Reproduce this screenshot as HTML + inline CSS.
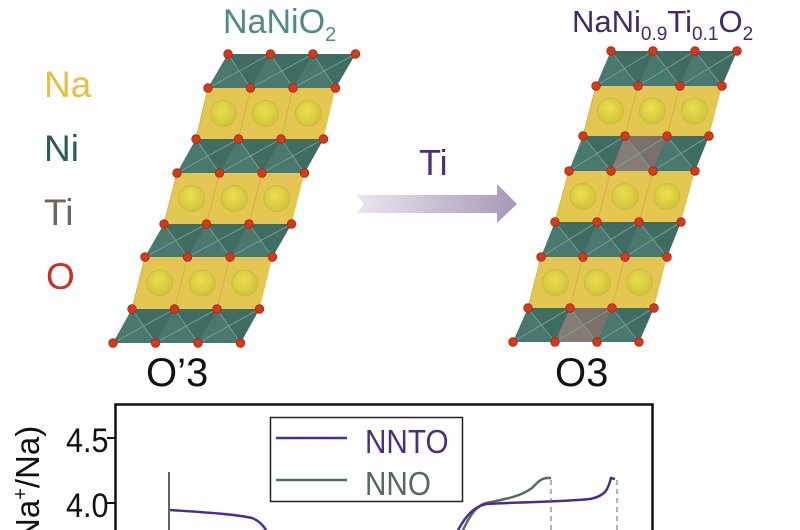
<!DOCTYPE html>
<html><head><meta charset="utf-8"><style>
html,body{margin:0;padding:0;background:#fff;width:800px;height:530px;overflow:hidden}
svg{display:block}
text{font-family:"Liberation Sans",sans-serif}
</style></head><body>
<svg id="s" width="800" height="530" viewBox="0 0 800 530" xmlns="http://www.w3.org/2000/svg">
<defs>
<linearGradient id="ar" x1="0" x2="1"><stop offset="0" stop-color="#ece6f0"/><stop offset="1" stop-color="#a798b6"/></linearGradient>
<radialGradient id="na" cx="0.45" cy="0.4" r="0.6"><stop offset="0" stop-color="#ece050"/><stop offset="1" stop-color="#cfc23a"/></radialGradient>
</defs>
<g id="st"></g>
<text x="223" y="33" font-size="34" fill="#4f8a86">NaNiO<tspan font-size="20" dy="8">2</tspan></text>
<text x="572" y="32" font-size="31" fill="#3f2a6e">NaNi<tspan font-size="19" dy="8">0.9</tspan><tspan dy="-8">Ti</tspan><tspan font-size="19" dy="8">0.1</tspan><tspan dy="-8">O</tspan><tspan font-size="19" dy="8">2</tspan></text>
<text x="44" y="97" font-size="37" fill="#e1c23e">Na</text>
<text x="44" y="161" font-size="37" fill="#2f5a52">Ni</text>
<text x="44" y="225" font-size="37" fill="#6d6560">Ti</text>
<text x="46" y="289" font-size="37" fill="#c8302a">O</text>
<text x="419" y="175" font-size="36" fill="#4a2f7a">Ti</text>
<polygon points="356,195 497,195 497,184 517,204 497,223 497,213 356,213 364,204" fill="url(#ar)"/>
<text x="146" y="386" font-size="40" fill="#111">O’3</text>
<text x="555" y="386" font-size="40" fill="#111">O3</text>
<rect x="115.5" y="404.5" width="537" height="140" fill="none" stroke="#111" stroke-width="2.5"/>
<line x1="107" y1="438" x2="115" y2="438" stroke="#111" stroke-width="2"/>
<line x1="107" y1="503" x2="115" y2="503" stroke="#111" stroke-width="2"/>
<text transform="translate(66,452) scale(0.9,1)" font-size="34" fill="#111">4.5</text>
<text transform="translate(66,517) scale(0.9,1)" font-size="34" fill="#111">4.0</text>
<text transform="translate(39,553) rotate(-90)" font-size="33" fill="#111">(Na<tspan font-size="20" dy="-12">+</tspan><tspan dy="12">/Na)</tspan></text>
<rect x="270.5" y="417.5" width="192" height="84" fill="#fff" stroke="#222" stroke-width="1.5"/>
<line x1="276" y1="438" x2="347" y2="438" stroke="#4a2f88" stroke-width="2.5"/>
<line x1="276" y1="480" x2="347" y2="480" stroke="#5a6a66" stroke-width="2.5"/>
<text transform="translate(365,453) scale(0.9,1)" font-size="33" fill="#4a2f7a">NNTO</text>
<text transform="translate(365,495) scale(0.9,1)" font-size="33" fill="#556864">NNO</text>
<path d="M169,472 L169,530" stroke="#5a6a66" stroke-width="2" fill="none"/>
<path d="M170,510 C200,512 235,514 252,518 C260,521 264,526 267,532" stroke="#4a2f88" stroke-width="2.5" fill="none"/>
<path d="M462,532 C470,515 476,506 486,503 C505,499 520,497 532,488 C538,482 541,478 548,478 L551,478" stroke="#5a6a66" stroke-width="2.5" fill="none"/>
<path d="M457,532 C466,515 474,507 486,504 C520,502 560,502 590,499 C605,496 608,490 611,478 L615,479" stroke="#4a2f88" stroke-width="2.5" fill="none"/>
<line x1="551" y1="480" x2="551" y2="530" stroke="#666" stroke-width="1" stroke-dasharray="5,4"/>
<line x1="617" y1="480" x2="617" y2="530" stroke="#666" stroke-width="1" stroke-dasharray="5,4"/>
</svg>
<script>
var NS="http://www.w3.org/2000/svg",g=document.getElementById("st");
function el(t,a){var e=document.createElementNS(NS,t);for(var k in a)e.setAttribute(k,a[k]);g.appendChild(e);return e;}
function build(x0s,ys,dx,ti){
 var n=ys.length;
 for(var r=0;r<n-1;r++){
  var green=(r%2==0);
  var x1=x0s[r],x2=x0s[r+1],y1=ys[r],y2=ys[r+1];
  el("polygon",{points:[x1,y1,x1+3*dx,y1,x2+3*dx,y2,x2,y2].join(" "),fill:green?"#3f6d63":"#e4c752"});
  for(var c=0;c<3;c++){
   var a=x1+c*dx,b=x2+c*dx;
   if(green){
    var isTi=ti.some(function(t){return t[0]==r&&t[1]==c;});
    el("polygon",{points:[a,y1,a+dx,y1,b+dx,y2,b,y2].join(" "),fill:isTi?"#7b716b":"#3f6d63"});
    el("polygon",{points:[a,y1,b+dx,y2,b,y2].join(" "),fill:isTi?"#8a807a":"#4b7b70",opacity:0.8});
    el("line",{x1:a+dx,y1:y1,x2:b,y2:y2,stroke:"#7fa39a","stroke-width":0.8});
    el("line",{x1:a,y1:y1,x2:b+dx,y2:y2,stroke:"#7fa39a","stroke-width":0.8});
   }else{
    el("line",{x1:a,y1:y1,x2:b,y2:y2,stroke:"#d2b540","stroke-width":1});
    el("circle",{cx:(a+b)/2+dx/2,cy:(y1+y2)/2,r:13,fill:"url(#na)",stroke:"#cdbb3a","stroke-width":1});
   }
  }
 }
 for(var r=0;r<n;r++)for(var c=0;c<4;c++){
  el("circle",{cx:x0s[r]+c*dx,cy:ys[r],r:4.3,fill:"#d23a1c",stroke:"#a8260f","stroke-width":0.8});
 }
}
build([228,208,196,177,164,145,132,113],[54,88,139,173,224,257,309,343],42.5,[]);
build([611,596,583,569,555,541,528,513],[51,86,136,171,222,257,308,342],42,[[2,1],[6,1]]);
</script>
</body></html>
